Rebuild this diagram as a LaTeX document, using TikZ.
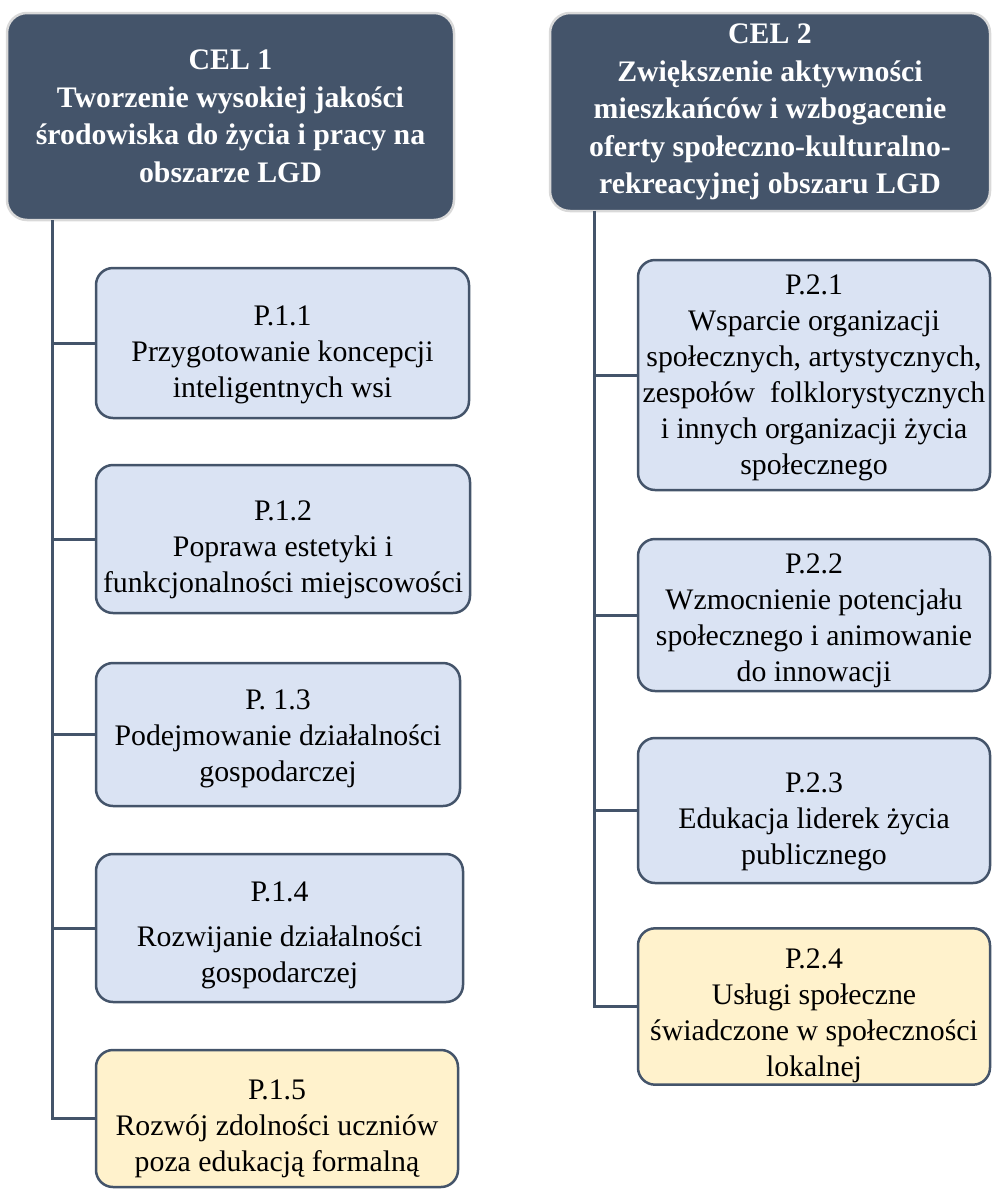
\documentclass[tikz,border=0pt]{standalone}
\usepackage{fontspec}
\setmainfont{Liberation Serif}
\definecolor{celfill}{HTML}{44546A}
\definecolor{pblue}{HTML}{DAE3F3}
\definecolor{pyellow}{HTML}{FFF2CC}
% strut that pushes the text of a box a little down
\newcommand{\toppad}[1]{\rule{0pt}{#1pt}}

\begin{document}
\begin{tikzpicture}[x=1pt, y=-1pt,
    cel/.style={rectangle, rounded corners=20pt, fill=celfill, draw=black!15, line width=2.5pt,
      text=white, align=center, inner sep=2pt, font=\bfseries\fontsize{29.8}{37.5}\selectfont},
    pbox/.style={rectangle, rounded corners=17pt, fill=pblue, draw=celfill, line width=2.5pt,
      align=center, inner sep=2pt, font=\fontsize{29.8}{36}\selectfont},
    pnew/.style={pbox, fill=pyellow},
    branch/.style={draw=celfill, line width=3pt}]
  \useasboundingbox (0,0) rectangle (991,1189);

  % cele
  \node[cel, minimum width=447, minimum height=207] (cel1) at (230.5,116.5)
    {CEL 1\\Tworzenie wysokiej jakości\\środowiska do życia i pracy na\\obszarze LGD};
  \node[cel, minimum width=440, minimum height=198] (cel2) at (770,112)
    {CEL 2\\Zwiększenie aktywności\\mieszkańców i wzbogacenie\\oferty społeczno-kulturalno-\\rekreacyjnej obszaru LGD};

  % przedsięwzięcia celu 1
  \node[pbox, minimum width=373, minimum height=150] (p11) at (282.5,343)
    {\toppad{44}P.1.1\\Przygotowanie koncepcji\\inteligentnych wsi};
  \node[pbox, minimum width=374, minimum height=148] (p12) at (283,539)
    {\toppad{42}P.1.2\\Poprawa estetyki i\\funkcjonalności miejscowości};
  \node[pbox, minimum width=364, minimum height=143] (p13) at (278,734.5)
    {\toppad{28}P. 1.3\\Podejmowanie działalności\\gospodarczej};
  \node[pbox, minimum width=367, minimum height=148] (p14) at (279.5,928)
    {\toppad{34}P.1.4\\[9pt]Rozwijanie działalności\\gospodarczej};
  \node[pnew, minimum width=362, minimum height=137] (p15) at (277,1118.5)
    {\toppad{40}P.1.5\\Rozwój zdolności uczniów\\poza edukacją formalną};

  % przedsięwzięcia celu 2
  \node[pbox, minimum width=352, minimum height=230] (p21) at (814,375)
    {\toppad{26}P.2.1\\Wsparcie organizacji\\społecznych, artystycznych,\\zespołów~ folklorystycznych\\i innych organizacji życia\\społecznego};
  \node[pbox, minimum width=352, minimum height=152] (p22) at (814,615)
    {\toppad{32}P.2.2\\Wzmocnienie potencjału\\społecznego i animowanie\\do innowacji};
  \node[pbox, minimum width=352, minimum height=145] (p23) at (814,810.5)
    {\toppad{42}P.2.3\\Edukacja liderek życia\\publicznego};
  \node[pnew, minimum width=352, minimum height=151] (p24) at (814,1006.5)
    {\toppad{38}P.2.4\\Usługi społeczne\\świadczone w społeczności\\lokalnej};

  % linie
  \coordinate (t1) at (52.5,220);
  \coordinate (t2) at (594,211);
  \foreach \n in {p11,p12,p13,p14,p15}
    \draw[branch] (t1) |- (\n.west);
  \foreach \n in {p21,p22,p23,p24}
    \draw[branch] (t2) |- (\n.west);
\end{tikzpicture}
\end{document}
